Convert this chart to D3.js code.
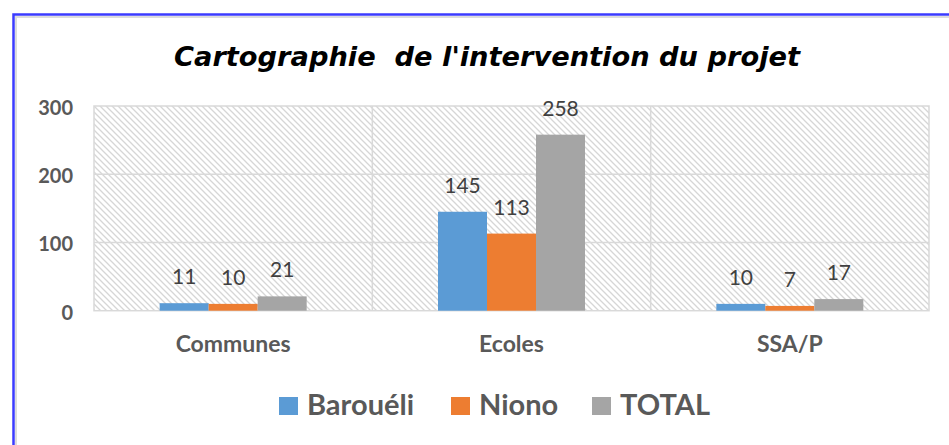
<!DOCTYPE html>
<html lang="en">
  <head>
    <meta charset="utf-8">
    <title>Cartographie</title>
    <script src="https://d3js.org/d3.v7.min.js"></script>
    <style>
      body { margin: 0; background: #fff; }
      svg { display: block; }
    </style>
  </head>

  <body>

  <script>

// data
  var categories = ["Communes", "Ecoles", "SSA/P"];
  var series = ["Barouéli", "Niono", "TOTAL"];
  var barouéli = [11, 145, 10];
  var niono = [10, 113, 7];
  var total = [21, 258, 17];
  var yTicks = [0, 100, 200, 300];
  var colors = ["#5b9bd5", "#ed7d31", "#a5a5a5"];

  var w = 949;
  var h = 445;

  var svg = d3.select("body")
    .append("svg")
      .attr("width", w)
      .attr("height", h);

  // hatch fill of the plot area
  var pat = svg.append("defs").append("pattern")
      .attr("id", "hatch")
      .attr("patternUnits", "userSpaceOnUse")
      .attr("width", 6)
      .attr("height", 6);
  pat.append("rect").attr("width", 6).attr("height", 6).attr("fill", "#fff");
  pat.append("path")
      .attr("d", "M0,0L6,6M-1,5L1,7M5,-1L7,1")
      .attr("stroke", "#d6d6d6")
      .attr("stroke-width", 1.3);

  // frame (blue top and left edge)
  svg.append("path")
      .attr("d", "M16,445V17H949")
      .attr("fill", "none")
      .attr("stroke", "#dcdcdc")
      .attr("stroke-width", 2);
  svg.append("path")
      .attr("d", "M13.5,445V14.5H949")
      .attr("fill", "none")
      .attr("stroke", "#3b3bff")
      .attr("stroke-width", 2.5);

  var table = categories.map((c, i) => ({
    cat: c,
    vals: [barouéli[i], niono[i], total[i]]
  }));

  var pLeft = 94, pRight = 929, pTop = 106, pBottom = 310.7;
  var groupW = 147;

  var x0 = d3.scaleBand()
    .domain(categories)
    .range([pLeft, pRight]);

  var x1 = d3.scaleBand()
    .domain(d3.range(series.length))
    .range([0, groupW]);

  var y = d3.scaleLinear()
    .domain([0, 300])
    .range([pBottom, pTop]);

  // plot area
  svg.append("rect")
      .attr("x", pLeft)
      .attr("y", pTop)
      .attr("width", pRight - pLeft)
      .attr("height", pBottom - pTop)
      .attr("fill", "url(#hatch)")
      .attr("stroke", "#d9d9d9")
      .attr("stroke-width", 1.5);

  // horizontal gridlines
  svg.append("g").selectAll("line")
    .data(yTicks.slice(1, -1))
    .enter().append("line")
      .attr("x1", pLeft).attr("x2", pRight)
      .attr("y1", d => y(d)).attr("y2", d => y(d))
      .attr("stroke", "#d9d9d9")
      .attr("stroke-width", 1.5);

  // vertical gridlines between categories
  svg.append("g").selectAll("line")
    .data(categories.slice(1))
    .enter().append("line")
      .attr("x1", d => x0(d)).attr("x2", d => x0(d))
      .attr("y1", pTop).attr("y2", pBottom)
      .attr("stroke", "#d9d9d9")
      .attr("stroke-width", 1.5);

  // y axis labels
  var yAxis = svg.append("g")
      .attr("transform", "translate(73,0)")
      .call(d3.axisLeft(y).tickValues(yTicks).tickSize(0).tickPadding(0));
  yAxis.select(".domain").remove();
  yAxis.selectAll("text")
      .attr("fill", "#595959")
      .attr("dy", "0.42em")
      .style("font", "bold 20px Lato");

  // bars
  var groups = svg.append("g").selectAll("g")
    .data(table)
    .enter().append("g")
      .attr("transform", d => "translate(" + (x0(d.cat) + (x0.bandwidth() - groupW) / 2) + ",0)");

  groups.selectAll("rect")
    .data(d => d.vals)
    .enter().append("rect")
      .attr("x", (d, i) => x1(i))
      .attr("y", d => y(d))
      .attr("width", x1.bandwidth())
      .attr("height", d => y(0) - y(d))
      .attr("fill", (d, i) => colors[i]);

  groups.selectAll("text")
    .data(d => d.vals)
    .enter().append("text")
      .attr("x", (d, i) => x1(i) + x1.bandwidth() / 2)
      .attr("y", d => y(d) - 19)
      .attr("text-anchor", "middle")
      .attr("fill", "#404040")
      .style("font", "21px Lato")
      .text(d => d);

  // category labels
  var xAxis = svg.append("g")
      .attr("transform", "translate(0,351.7)")
      .call(d3.axisBottom(x0).tickSize(0).tickPadding(0));
  xAxis.select(".domain").remove();
  xAxis.selectAll("text")
      .attr("dy", 0)
      .attr("fill", "#595959")
      .style("font", "bold 23px Lato");

  // title, sized to the reference width
  var title = svg.append("text")
      .attr("x", 487)
      .attr("y", 66)
      .attr("text-anchor", "middle")
      .attr("fill", "#000")
      .style("font-family", "DejaVu Sans")
      .style("font-weight", "bold")
      .style("font-style", "italic")
      .style("font-size", "20px")
      .style("white-space", "pre")
      .attr("xml:space", "preserve")
      .text("Cartographie  de l'intervention du projet");
  var tw = title.node().getComputedTextLength();
  title.style("font-size", (20 * 626 / tw) + "px");

  // legend
  var legX = [279, 451, 592];
  var legend = svg.append("g").selectAll("g")
    .data(series)
    .enter().append("g")
      .attr("transform", (d, i) => "translate(" + legX[i] + ",0)");
  legend.append("rect")
      .attr("y", 397)
      .attr("width", 19)
      .attr("height", 18)
      .attr("fill", (d, i) => colors[i]);
  legend.append("text")
      .attr("x", 28)
      .attr("y", 415)
      .attr("fill", "#595959")
      .style("font", "bold 29px Lato")
      .text(d => d);

  </script>

  </body>

</html>
